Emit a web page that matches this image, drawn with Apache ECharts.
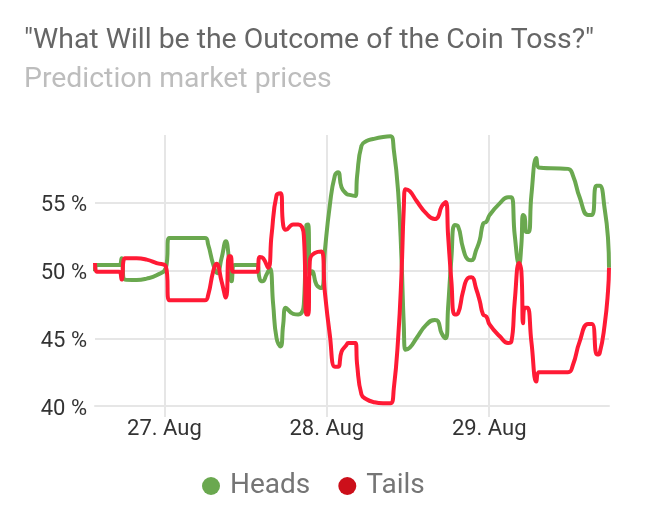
<!DOCTYPE html>
<html>
<head>
<meta charset="utf-8">
<style>
  html, body { margin: 0; padding: 0; background: #fff; }
  #main { width: 650px; height: 522px; }
</style>
<script src="https://cdn.jsdelivr.net/npm/echarts@6/dist/echarts.min.js"></script>
</head>
<body>
<div id="main"></div>
<script>
  // hours after 27 Aug 00:00
  var headsHours = [-10.26, -10.02, -6.67, -6.33, -5.83, -4.11, -2.63, -1.16, 0.22, 0.71, 5.98, 6.47, 7.21, 7.8, 8.44, 9.08, 9.53, 9.92, 10.41, 13.61, 14.1, 14.5, 15.09, 15.58, 16.07, 16.57, 17.16, 17.55, 17.94, 19.03, 19.77, 20.6, 20.98, 21.24, 21.49, 21.83, 22.47, 23.21, 23.7, 24.44, 25.18, 25.67, 26.17, 26.9, 27.15, 28.23, 28.48, 29.12, 29.86, 30.84, 32.32, 33.4, 33.9, 34.54, 35.03, 35.37, 35.62, 36.26, 37.24, 38.72, 39.95, 40.44, 40.94, 41.58, 41.92, 42.41, 42.9, 43.4, 44.13, 44.87, 45.37, 46.1, 46.6, 47.09, 47.58, 48.07, 49.55, 50.78, 51.27, 51.77, 52.41, 52.75, 53, 53.24, 53.49, 53.83, 54.23, 54.97, 55.31, 59.64, 60.38, 61.36, 62.6, 63.19, 63.83, 64.32, 65.06, 65.55, 65.7];
  var headsValues = [49.95, 50.4, 50.4, 50.9, 49.33, 49.3, 49.4, 49.65, 50.2, 52.4, 52.4, 51.9, 50.45, 49.8, 50.9, 52.15, 50.9, 49.2, 50.4, 50.4, 49.33, 49.2, 49.7, 50.15, 47.5, 45, 44.4, 46, 47.25, 46.8, 46.75, 47.5, 53.35, 53.4, 49.7, 49.95, 48.95, 48.7, 51.4, 54.8, 57, 57.25, 56.15, 55.65, 55.6, 55.5, 57, 59.2, 59.55, 59.7, 59.85, 59.9, 58.9, 55.8, 50.9, 46, 44.15, 44.3, 45, 46, 46.35, 46.25, 45.4, 45, 47.25, 50.9, 53.35, 53.25, 51.65, 50.8, 50.75, 51.55, 52.25, 53.45, 53.6, 54.1, 54.95, 55.4, 55.4, 52.6, 50.45, 51.9, 54.1, 53.95, 52.85, 52.85, 55.55, 58.3, 57.6, 57.5, 57, 55.4, 54.1, 54.1, 56.25, 56.25, 54.55, 52.4, 50.2];
  var tailsHours = [-10.26, -10.02, -6.67, -6.33, -5.83, -4.11, -2.63, -1.16, 0.22, 0.71, 5.98, 6.47, 7.21, 7.7, 8.44, 9.08, 9.53, 9.77, 10.17, 13.61, 14.1, 14.6, 15.33, 15.83, 16.57, 17.16, 17.55, 17.94, 19.03, 19.77, 20.6, 20.98, 21.24, 21.49, 22.22, 23.21, 23.7, 24.44, 25.18, 25.67, 26.17, 26.9, 27.15, 28.23, 28.48, 29.12, 29.86, 30.84, 32.32, 33.4, 33.9, 34.54, 35.03, 35.37, 35.62, 36.26, 37.24, 38.72, 39.95, 40.44, 40.94, 41.58, 41.92, 42.41, 42.9, 43.4, 44.13, 44.87, 45.37, 46.1, 46.6, 47.09, 47.58, 48.07, 49.55, 50.78, 51.27, 51.77, 52.41, 52.75, 53, 53.24, 53.64, 54.23, 54.97, 55.31, 59.64, 60.38, 61.36, 62.6, 63.19, 63.93, 64.32, 65.06, 65.55, 65.7];
  var tailsValues = [50.55, 49.9, 49.9, 49.33, 50.9, 50.9, 50.8, 50.55, 50.3, 47.8, 47.8, 48.2, 49.95, 50.5, 49.2, 48, 51.05, 51.05, 49.9, 49.9, 51, 50.9, 50.2, 52.6, 55.55, 55.7, 53.35, 53, 53.4, 53.4, 52.6, 46.75, 46.75, 50.7, 51.3, 51.4, 48.45, 45.25, 42.9, 42.9, 44, 44.5, 44.65, 44.65, 43.05, 40.85, 40.5, 40.3, 40.2, 40.2, 41.3, 45, 49.7, 54.55, 56, 55.85, 55.15, 54.2, 53.8, 53.95, 54.7, 55.05, 52.6, 49.2, 46.75, 46.85, 48.45, 49.45, 49.5, 48.6, 47.75, 46.75, 46.6, 46, 45.15, 44.65, 44.75, 47.75, 50.55, 49.95, 46.1, 47.25, 47.25, 44.75, 41.8, 42.5, 42.5, 43.05, 44.75, 46.05, 46.05, 43.8, 43.9, 46, 48.45, 50.2];
  var dayHours = [0, 24, 48];
  var dayLabels = ['27. Aug', '28. Aug', '29. Aug'];
  var percentTicks = [40, 45, 50, 55];

  function toPairs(hours, values) {
    return hours.map(function (h, i) {
      return [h, values[i]];
    });
  }

  var myChart = echarts.init(document.getElementById('main'), null, { renderer: 'canvas' });
  myChart.setOption({
    animation: false,
    backgroundColor: '#fff',
    textStyle: { fontFamily: 'Roboto' },
    title: {
      text: '"What Will be the Outcome of the Coin Toss?"',
      subtext: 'Prediction market prices',
      left: 19,
      top: 22,
      itemGap: 11,
      textStyle: { fontFamily: 'Roboto', fontSize: 28.4, fontWeight: 'normal', color: '#666666' },
      subtextStyle: { fontFamily: 'Roboto', fontSize: 28.4, color: '#bdbdbd' }
    },
    legend: {
      data: ['Heads', 'Tails'],
      bottom: 17,
      left: 197,
      icon: 'circle',
      itemWidth: 18,
      itemHeight: 18,
      itemGap: 28,
      textStyle: { fontFamily: 'Roboto', fontSize: 28, color: '#757575', padding: [0, 0, 0, 5] }
    },
    grid: { left: 95, right: 41, top: 135, bottom: 116 },
    xAxis: {
      type: 'value',
      min: -10.26,
      max: 65.7,
      axisLine: { show: true, lineStyle: { color: '#e6e6e6', width: 2 } },
      axisTick: { show: true, length: 11, customValues: dayHours, lineStyle: { color: '#e6e6e6', width: 2 } },
      axisLabel: {
        customValues: dayHours,
        fontSize: 22,
        color: '#333333',
        margin: 12,
        formatter: function (value) {
          return dayLabels[dayHours.indexOf(value)];
        }
      },
      splitLine: { show: true, lineStyle: { color: '#e6e6e6', width: 2 } }
    },
    yAxis: {
      type: 'value',
      min: 40,
      max: 60,
      axisLine: { show: false },
      axisTick: { show: false, customValues: percentTicks },
      axisLabel: {
        customValues: percentTicks,
        fontSize: 22,
        color: '#333333',
        margin: 8,
        verticalAlign: 'top',
        padding: [-8, 0, 0, 0],
        formatter: '{value} %'
      },
      splitLine: { show: true, lineStyle: { color: '#e6e6e6', width: 2 } }
    },
    series: [{
        name: 'Heads',
        type: 'line',
        data: toPairs(headsHours, headsValues),
        smooth: 0.5,
        showSymbol: false,
        itemStyle: { color: '#6aa84f' },
        lineStyle: { color: '#6aa84f', width: 4 }
      },
      {
        name: 'Tails',
        type: 'line',
        data: toPairs(tailsHours, tailsValues),
        smooth: 0.5,
        showSymbol: false,
        itemStyle: { color: '#cc0f1a' },
        lineStyle: { color: '#ff1a35', width: 4 }
      }
    ]
  });
</script>
</body>
</html>
